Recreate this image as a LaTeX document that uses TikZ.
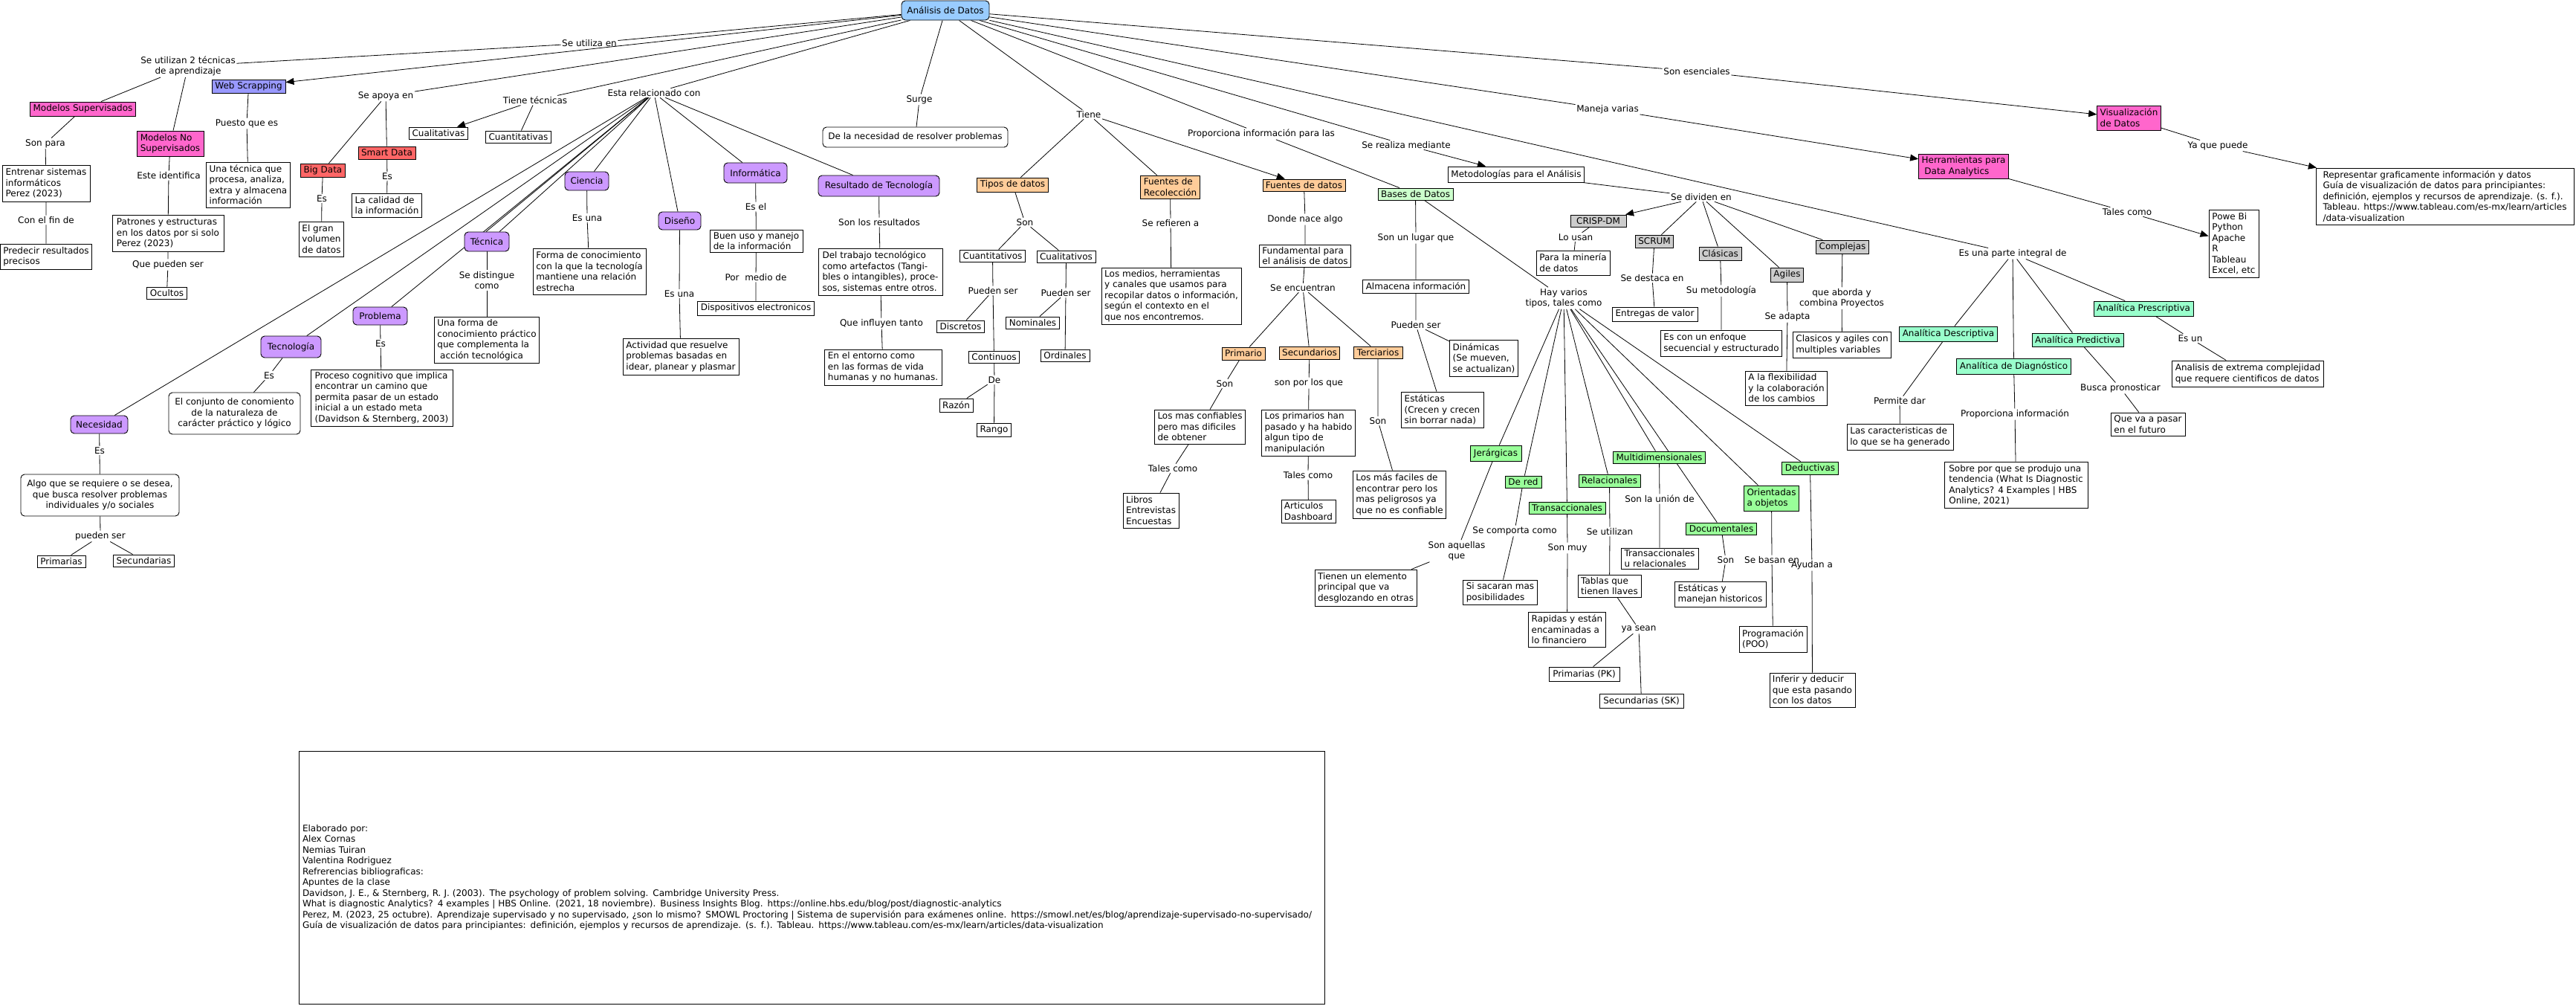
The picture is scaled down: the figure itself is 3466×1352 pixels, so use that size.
\documentclass[tikz,border=0pt]{standalone}
\usepackage{fontspec}
\setmainfont{DejaVu Sans}
\usetikzlibrary{arrows.meta,backgrounds}
\definecolor{cblue}{HTML}{99CCFF}
\definecolor{cpurp}{HTML}{CC99FF}
\definecolor{cpink}{HTML}{FF66CC}
\definecolor{cws}{HTML}{9999FF}
\definecolor{cred}{HTML}{FF6666}
\definecolor{corange}{HTML}{FFCC99}
\definecolor{cgreenl}{HTML}{CCFFCC}
\definecolor{cgreen}{HTML}{99FF99}
\definecolor{caqua}{HTML}{99FFCC}
\definecolor{cgray}{HTML}{CCCCCC}
\newcommand{\cpt}[7]{%
  \pgfmathsetmacro{\mycx}{(#3+#4)/2}%
  \pgfmathsetmacro{\mycy}{(#5+#6)/2}%
  \pgfmathsetmacro{\myw}{#4-#3}%
  \pgfmathsetmacro{\myh}{#6-#5}%
  \node[#2, minimum width=\myw pt, minimum height=\myh pt] (#1) at (\mycx,\mycy) {#7};}
\newcommand{\lnk}[4]{\node[lk] (#1) at (#2,#3) {#4};}
\begin{document}
\begin{tikzpicture}[x=1pt,y=-1pt,
  font=\fontsize{12}{14.5}\selectfont,
  box/.style={draw, line width=0.9pt, rectangle, align=left, inner xsep=4pt, inner ysep=2pt},
  refbox/.style={box, text width=1370pt},
  rbox/.style={box, rounded corners=5pt, align=center},
  anab/.style={rbox, fill=cblue},
  purb/.style={rbox, fill=cpurp},
  pinkb/.style={box, fill=cpink},
  wsb/.style={box, fill=cws},
  redb/.style={box, fill=cred},
  orb/.style={box, fill=corange},
  grlb/.style={box, fill=cgreenl},
  grb/.style={box, fill=cgreen},
  aqb/.style={box, fill=caqua},
  gyb/.style={box, fill=cgray},
  lk/.style={inner sep=1.5pt, align=center},
  ln/.style={line width=0.8pt},
  arr/.style={ln, -{Triangle[length=11pt,width=9pt]}}]
\useasboundingbox (0,0) rectangle (3466,1352);

% ---------- concepts ----------
\cpt{ana}{anab}{1213}{1331}{1}{27}{Análisis de Datos}
\cpt{wscr}{wsb}{285}{384}{107}{125}{Web Scrapping}
\cpt{msup}{pinkb}{41}{182}{137}{156}{Modelos Supervisados}
\cpt{mnsup}{pinkb}{184}{274}{176}{210}{Modelos No\\Supervisados}
\cpt{unatec}{box}{278}{390}{218}{279}{Una técnica que\\procesa, analiza,\\extra y almacena\\información}
\cpt{bigd}{redb}{405}{464}{220}{238}{Big Data}
\cpt{smartd}{redb}{482}{559}{197}{214}{Smart Data}
\cpt{elgran}{box}{403}{462}{298}{345}{El gran\\volumen\\de datos}
\cpt{lacal}{box}{474}{567}{260}{292}{La calidad de\\la información}
\cpt{entrenar}{box}{3}{121}{222}{271}{Entrenar sistemas\\informáticos\\Perez (2023)}
\cpt{predecir}{box}{1}{123}{328}{362}{Predecir resultados\\precisos}
\cpt{patrones}{box}{151}{301}{289}{338}{Patrones y estructuras\\en los datos por si solo\\Perez (2023)}
\cpt{ocultos}{box}{198}{251}{386}{402}{Ocultos}
\cpt{cualit}{box}{551}{629}{171}{187}{Cualitativas}
\cpt{cuantit}{box}{654}{741}{176}{192}{Cuantitativas}
\cpt{problema}{purb}{475}{548}{413}{437}{Problema}
\cpt{tecnologia}{purb}{351}{432}{452}{481}{Tecnología}
\cpt{proceso}{box}{418}{609}{497}{573}{Proceso cognitivo que implica\\encontrar un camino que\\permita pasar de un estado\\inicial a un estado meta\\(Davidson \& Sternberg, 2003)}
\cpt{necesidad}{purb}{95}{172}{559}{583}{Necesidad}
\cpt{conjunto}{rbox}{227}{404}{528}{584}{El conjunto de conomiento\\de la naturaleza de\\carácter práctico y lógico}
\cpt{algo}{rbox}{28}{241}{638}{694}{Algo que se requiere o se desea,\\que busca resolver problemas\\individuales y/o sociales}
\cpt{primarias}{box}{50}{115}{747}{763}{Primarias}
\cpt{secundarias}{box}{153}{234}{746}{762}{Secundarias}
\cpt{ciencia}{purb}{760}{819}{231}{256}{Ciencia}
\cpt{formac}{box}{717}{869}{334}{396}{Forma de conocimiento\\con la que la tecnología\\mantiene una relación\\estrecha}
\cpt{tecnica}{purb}{625}{685}{312}{338}{Técnica}
\cpt{unaforma}{box}{586}{724}{426}{488}{Una forma de\\conocimiento práctico\\que complementa la\\\hspace{3.8pt}acción tecnológica}
\cpt{diseno}{purb}{886}{943}{285}{309}{Diseño}
\cpt{actividad}{box}{838}{994}{455}{504}{Actividad que resuelve\\problemas basadas en\\idear, planear y plasmar}
\cpt{informatica}{purb}{974}{1059}{219}{246}{Informática}
\cpt{buenuso}{box}{955}{1080}{309}{339}{Buen uso y manejo\\de la información}
\cpt{dispositivos}{box}{940}{1094}{405}{424}{Dispositivos electronicos}
\cpt{necres}{rbox}{1107}{1356}{171}{198}{De la necesidad de resolver problemas}
\cpt{resultado}{purb}{1101}{1264}{236}{264}{Resultado de Tecnología}
\cpt{deltrab}{box}{1101}{1268}{334}{397}{Del trabajo tecnológico\\como artefactos (Tangi-\\bles o intangibles), proce-\\sos, sistemas entre otros.}
\cpt{entorno}{box}{1109}{1267}{470}{518}{En el entorno como\\en las formas de vida\\humanas y no humanas.}
\cpt{tipos}{orb}{1315}{1410}{239}{258}{Tipos de datos}
\cpt{fuentesrec}{orb}{1535}{1614}{236}{267}{Fuentes de\\Recolección}
\cpt{fuentesdat}{orb}{1699}{1810}{241}{257}{Fuentes de datos}
\cpt{cuantos}{box}{1292}{1379}{336}{352}{Cuantitativos}
\cpt{cualos}{box}{1395}{1474}{337}{353}{Cualitativos}
\cpt{discretos}{box}{1261}{1324}{431}{447}{Discretos}
\cpt{nominales}{box}{1354}{1425}{426}{442}{Nominales}
\cpt{continuos}{box}{1304}{1371}{472}{488}{Continuos}
\cpt{ordinales}{box}{1400}{1466}{470}{486}{Ordinales}
\cpt{razon}{box}{1264}{1309}{536}{554}{Razón}
\cpt{rango}{box}{1315}{1360}{569}{587}{Rango}
\cpt{medios}{box}{1482}{1670}{360}{436}{Los medios, herramientas\\y canales que usamos para\\recopilar datos o información,\\según el contexto en el\\que nos encontremos.}
\cpt{fundamental}{box}{1695}{1817}{329}{359}{Fundamental para\\el análisis de datos}
\cpt{primario}{orb}{1644}{1702}{467}{484}{Primario}
\cpt{secundarios}{orb}{1722}{1802}{466}{483}{Secundarios}
\cpt{terciarios}{orb}{1821}{1887}{466}{482}{Terciarios}
\cpt{confiables}{box}{1554}{1675}{551}{597}{Los mas confiables\\pero mas dificiles\\de obtener}
\cpt{libros}{box}{1511}{1586}{663}{710}{Libros\\Entrevistas\\Encuestas}
\cpt{primhan}{box}{1698}{1823}{551}{613}{Los primarios han\\pasado y ha habido\\algun tipo de\\manipulación}
\cpt{articulos}{box}{1724}{1797}{672}{703}{Articulos\\Dashboard}
\cpt{faciles}{box}{1821}{1945}{633}{697}{Los más faciles de\\encontrar pero los\\mas peligrosos ya\\que no es confiable}
\cpt{bases}{grlb}{1854}{1955}{253}{269}{Bases de Datos}
\cpt{almacena}{box}{1835}{1975}{376}{394}{Almacena información}
\cpt{dinamicas}{box}{1951}{2042}{457}{506}{Dinámicas\\(Se mueven,\\se actualizan)}
\cpt{estaticas}{box}{1885}{1996}{527}{575}{Estáticas\\(Crecen y crecen\\sin borrar nada)}
\cpt{metod}{box}{1949}{2131}{224}{245}{Metodologías para el Análisis}
\cpt{crisp}{gyb}{2113}{2188}{289}{305}{CRISP-DM}
\cpt{mineria}{box}{2067}{2166}{337}{370}{Para la minería\\de datos}
\cpt{scrum}{gyb}{2201}{2251}{316}{333}{SCRUM}
\cpt{entregas}{box}{2169}{2284}{413}{432}{Entregas de valor}
\cpt{clasicas}{gyb}{2286}{2343}{332}{350}{Clásicas}
\cpt{enfoque}{box}{2235}{2397}{444}{479}{Es con un enfoque\\secuencial y estructurado}
\cpt{agiles}{gyb}{2383}{2426}{360}{379}{Agiles}
\cpt{flexib}{box}{2349}{2458}{499}{545}{A la flexibilidad\\y la colaboración\\de los cambios}
\cpt{complejas}{gyb}{2444}{2514}{323}{341}{Complejas}
\cpt{clasagil}{box}{2413}{2544}{446}{481}{Clasicos y agiles con\\multiples variables}
\cpt{jerar}{grb}{1978}{2047}{599}{620}{Jerárgicas}
\cpt{dered}{grb}{2025}{2074}{640}{656}{De red}
\cpt{transac}{grb}{2057}{2160}{675}{691}{Transaccionales}
\cpt{relac}{grb}{2124}{2207}{638}{655}{Relacionales}
\cpt{multid}{grb}{2171}{2294}{607}{623}{Multidimensionales}
\cpt{docum}{grb}{2269}{2363}{703}{719}{Documentales}
\cpt{orient}{grb}{2347}{2420}{653}{687}{Orientadas\\a objetos}
\cpt{deduct}{grb}{2398}{2473}{621}{638}{Deductivas}
\cpt{tienen}{box}{1769}{1906}{766}{815}{Tienen un elemento\\principal que va\\desglozando en otras}
\cpt{sisacaran}{box}{1969}{2068}{780}{813}{Si sacaran mas\\posibilidades}
\cpt{rapidas}{box}{2057}{2160}{823}{870}{Rapidas y están\\encaminadas a\\lo financiero}
\cpt{tablas}{box}{2123}{2208}{773}{803}{Tablas que\\tienen llaves}
\cpt{pk}{box}{2084}{2179}{897}{916}{Primarias (PK)}
\cpt{sk}{box}{2152}{2265}{933}{952}{Secundarias (SK)}
\cpt{tyr}{box}{2181}{2285}{737}{765}{Transaccionales\\u relacionales}
\cpt{estyman}{box}{2253}{2376}{782}{816}{Estáticas y\\manejan historicos}
\cpt{program}{box}{2340}{2431}{842}{877}{Programación\\(POO)}
\cpt{inferir}{box}{2381}{2496}{905}{951}{Inferir y deducir\\que esta pasando\\con los datos}
\cpt{visual}{pinkb}{2822}{2907}{142}{175}{Visualización\\de Datos}
\cpt{herram}{pinkb}{2582}{2702}{207}{240}{Herramientas para\\\hspace{3.8pt}Data Analytics}
\cpt{powebi}{box}{2972}{3039}{282}{373}{Powe Bi\\Python\\Apache\\R\\Tableau\\Excel, etc}
\cpt{represent}{box}{3116}{3463}{226}{302}{Representar graficamente información y datos\\Guía de visualización de datos para principiantes:\\definición, ejemplos y recursos de aprendizaje. (s. f.).\\Tableau. https://www.tableau.com/es-mx/learn/articles\\/data-visualization}
\cpt{adesc}{aqb}{2556}{2687}{439}{459}{Analítica Descriptiva}
\cpt{adiag}{aqb}{2633}{2786}{482}{503}{Analítica de Diagnóstico}
\cpt{apred}{aqb}{2734}{2857}{448}{466}{Analítica Predictiva}
\cpt{apresc}{aqb}{2818}{2950}{405}{425}{Analítica Prescriptiva}
\cpt{caract}{box}{2485}{2628}{570}{605}{Las caracteristicas de\\lo que se ha generado}
\cpt{sobre}{box}{2616}{2809}{621}{683}{Sobre por que se produjo una\\tendencia (What Is Diagnostic\\Analytics? 4 Examples | HBS\\Online, 2021)}
\cpt{quevaa}{box}{2840}{2940}{555}{586}{Que va a pasar\\en el futuro}
\cpt{extrema}{box}{2923}{3126}{485}{520}{Analisis de extrema complejidad\\que requere cientificos de datos}
\cpt{refs}{refbox}{402}{1782}{1010}{1350}{Elaborado por:\\Alex Cornas\\Nemias Tuiran\\Valentina Rodriguez\\Refrerencias bibliograficas:\\Apuntes de la clase\\Davidson, J. E., \& Sternberg, R. J. (2003). The psychology of problem solving. Cambridge University Press.\\What is diagnostic Analytics? 4 examples | HBS Online. (2021, 18 noviembre). Business Insights Blog. https://online.hbs.edu/blog/post/diagnostic-analytics\\Perez, M. (2023, 25 octubre). Aprendizaje supervisado y no supervisado, ¿son lo mismo? SMOWL Proctoring | Sistema de supervisión para exámenes online. https://smowl.net/es/blog/aprendizaje-supervisado-no-supervisado/\\Guía de visualización de datos para principiantes: definición, ejemplos y recursos de aprendizaje. (s. f.). Tableau. https://www.tableau.com/es-mx/learn/articles/data-visualization}

% ---------- linking phrases ----------
\lnk{l_seutilizan}{253}{89}{Se utilizan 2 técnicas\\de aprendizaje}
\lnk{l_seutiliza}{793}{58}{Se utiliza en}
\lnk{l_sonpara}{61}{193}{Son para}
\lnk{l_confin}{62}{296}{Con el fin de}
\lnk{l_esteid}{227}{236}{Este identifica}
\lnk{l_quepueden}{226}{356}{Que pueden ser}
\lnk{l_puesto}{332}{166}{Puesto que es}
\lnk{l_apoya}{519}{129}{Se apoya en}
\lnk{l_esbd}{433}{267}{Es}
\lnk{l_essd}{521}{237}{Es}
\lnk{l_tienetec}{720}{135}{Tiene técnicas}
\lnk{l_esta}{880}{125}{Esta relacionado con}
\lnk{l_esprob}{512}{462}{Es}
\lnk{l_estec}{362}{505}{Es}
\lnk{l_esnec}{134}{606}{Es}
\lnk{l_pueden}{135}{721}{pueden ser}
\lnk{l_esuna1}{790}{293}{Es una}
\lnk{l_distingue}{655}{377}{Se distingue\\como}
\lnk{l_esuna2}{914}{395}{Es una}
\lnk{l_esel}{1017}{278}{Es el}
\lnk{l_pormedio}{1017}{373}{Por\ \ medio de}
\lnk{l_sonlos}{1183}{299}{Son los resultados}
\lnk{l_queinf}{1186}{435}{Que influyen tanto}
\lnk{l_surge}{1237}{134}{Surge}
\lnk{l_tiene}{1465}{154}{Tiene}
\lnk{l_son1}{1379}{299}{Son}
\lnk{l_pueden1}{1336}{391}{Pueden ser}
\lnk{l_pueden2}{1434}{394}{Pueden ser}
\lnk{l_de}{1338}{511}{De}
\lnk{l_refieren}{1575}{300}{Se refieren a}
\lnk{l_proporciona}{1697}{180}{Proporciona información para las}
\lnk{l_donde}{1756}{295}{Donde nace algo}
\lnk{l_encuentran}{1753}{387}{Se encuentran}
\lnk{l_son2}{1648}{516}{Son}
\lnk{l_tales1}{1578}{630}{Tales como}
\lnk{l_sonpor}{1761}{515}{son por los que}
\lnk{l_tales2}{1760}{639}{Tales como}
\lnk{l_son3}{1854}{566}{Son}
\lnk{l_lugar}{1905}{320}{Son un lugar que}
\lnk{l_pueden3}{1905}{437}{Pueden ser}
\lnk{l_hay}{2104}{401}{Hay varios\\tipos, tales como}
\lnk{l_aquellas}{1960}{741}{Son aquellas\\que}
\lnk{l_comporta}{2038}{714}{Se comporta como}
\lnk{l_muy}{2109}{737}{Son muy}
\lnk{l_seutilizan2}{2166}{715}{Se utilizan}
\lnk{l_yasean}{2205}{846}{ya sean}
\lnk{l_union}{2233}{671}{Son la unión de}
\lnk{l_son4}{2322}{753}{Son}
\lnk{l_basan}{2384}{753}{Se basan en}
\lnk{l_ayudan}{2438}{760}{Ayudan a}
\lnk{l_realiza}{1892}{195}{Se realiza mediante}
\lnk{l_dividen}{2289}{265}{Se dividen en}
\lnk{l_lousan}{2120}{319}{Lo usan}
\lnk{l_destaca}{2223}{374}{Se destaca en}
\lnk{l_sumet}{2316}{391}{Su metodología}
\lnk{l_adapta}{2405}{426}{Se adapta}
\lnk{l_aborda}{2478}{401}{que aborda y\\combina Proyectos}
\lnk{l_maneja}{2163}{147}{Maneja varias}
\lnk{l_esenciales}{2283}{96}{Son esenciales}
\lnk{l_integral}{2708}{341}{Es una parte integral de}
\lnk{l_permite}{2556}{539}{Permite dar}
\lnk{l_propinf}{2711}{557}{Proporciona información}
\lnk{l_busca}{2853}{522}{Busca pronosticar}
\lnk{l_esun}{2947}{455}{Es un}
\lnk{l_tales3}{2862}{285}{Tales como}
\lnk{l_yaque}{2984}{196}{Ya que puede}

% ---------- connectors ----------
\begin{pgfonlayer}{background}
\draw[ln] (ana) -- (l_seutiliza) -- (l_seutilizan);
\draw[ln] (l_seutilizan) -- (msup);
\draw[ln] (l_seutilizan) -- (mnsup);
\draw[arr] (ana) -- (wscr);
\draw[ln] (ana) -- (l_apoya);
\draw[ln] (l_apoya) -- (bigd);
\draw[ln] (l_apoya) -- (smartd);
\draw[ln] (ana) -- (l_tienetec);
\draw[arr] (l_tienetec) -- (cualit);
\draw[ln] (l_tienetec) -- (cuantit);
\draw[ln] (ana) -- (l_esta);
\draw[ln] (l_esta) -- (necesidad);
\draw[ln] (l_esta) -- (tecnologia);
\draw[ln] (l_esta) -- (problema);
\draw[ln] (l_esta) -- ([xshift=-1pt]tecnica.north);
\draw[ln] (l_esta) -- ([xshift=17pt]tecnica.north);
\draw[ln] (l_esta) -- (ciencia);
\draw[ln] (l_esta) -- (diseno);
\draw[ln] (l_esta) -- (informatica);
\draw[ln] (l_esta) -- (resultado);
\draw[ln] (ana) -- (l_surge) -- (necres);
\draw[ln] (ana) -- (l_tiene);
\draw[ln] (l_tiene) -- (tipos);
\draw[ln] (l_tiene) -- (fuentesrec);
\draw[arr] (l_tiene) -- (fuentesdat);
\draw[ln] (ana) -- (l_proporciona) -- (bases);
\draw[ln] (ana) -- (l_realiza);
\draw[arr] (l_realiza) -- (metod);
\draw[ln] (ana) -- (l_integral);
\draw[ln] (l_integral) -- (adesc);
\draw[ln] (l_integral) -- (adiag);
\draw[ln] (l_integral) -- (apred);
\draw[ln] (l_integral) -- (apresc);
\draw[ln] (ana) -- (l_maneja);
\draw[arr] (l_maneja) -- (herram);
\draw[ln] (ana) -- (l_esenciales);
\draw[arr] (l_esenciales) -- (visual);

\draw[ln] (msup) -- (l_sonpara) -- (entrenar) -- (l_confin) -- (predecir);
\draw[ln] (mnsup) -- (l_esteid) -- (patrones) -- (l_quepueden) -- (ocultos);
\draw[ln] (wscr) -- (l_puesto) -- (unatec);
\draw[ln] (bigd) -- (l_esbd) -- (elgran);
\draw[ln] (smartd) -- (l_essd) -- (lacal);
\draw[ln] (ciencia) -- (l_esuna1) -- (formac);
\draw[ln] (tecnica) -- (l_distingue) -- (unaforma);
\draw[ln] (diseno) -- (l_esuna2) -- (actividad);
\draw[ln] (informatica) -- (l_esel) -- (buenuso) -- (l_pormedio) -- (dispositivos);
\draw[ln] (resultado) -- (l_sonlos) -- (deltrab) -- (l_queinf) -- (entorno);
\draw[ln] (problema) -- (l_esprob) -- (proceso);
\draw[ln] (tecnologia) -- (l_estec) -- (conjunto);
\draw[ln] (necesidad) -- (l_esnec) -- (algo) -- (l_pueden);
\draw[ln] (l_pueden) -- (primarias);
\draw[ln] (l_pueden) -- (secundarias);

\draw[ln] (tipos) -- (l_son1);
\draw[ln] (l_son1) -- (cuantos);
\draw[ln] (l_son1) -- (cualos);
\draw[ln] (cuantos) -- (l_pueden1);
\draw[ln] (l_pueden1) -- (discretos);
\draw[ln] (l_pueden1) -- (continuos);
\draw[ln] (continuos) -- (l_de);
\draw[ln] (l_de) -- (razon);
\draw[ln] (l_de) -- (rango);
\draw[ln] (cualos) -- (l_pueden2);
\draw[ln] (l_pueden2) -- (nominales);
\draw[ln] (l_pueden2) -- (ordinales);
\draw[ln] (fuentesrec) -- (l_refieren) -- (medios);
\draw[ln] (fuentesdat) -- (l_donde) -- (fundamental) -- (l_encuentran);
\draw[ln] (l_encuentran) -- (primario);
\draw[ln] (l_encuentran) -- (secundarios);
\draw[ln] (l_encuentran) -- (terciarios);
\draw[ln] (primario) -- (l_son2) -- (confiables) -- (l_tales1) -- (libros);
\draw[ln] (secundarios) -- (l_sonpor) -- (primhan) -- (l_tales2) -- (articulos);
\draw[ln] (terciarios) -- (l_son3) -- (faciles);

\draw[ln] (bases) -- (l_lugar) -- (almacena) -- (l_pueden3);
\draw[ln] (l_pueden3) -- (dinamicas);
\draw[ln] (l_pueden3) -- (estaticas);
\draw[ln] (bases) -- (l_hay);
\draw[ln] (l_hay) -- (jerar);
\draw[ln] (l_hay) -- (dered);
\draw[ln] (l_hay) -- (transac);
\draw[ln] (l_hay) -- (relac);
\draw[ln] (l_hay) -- (multid);
\draw[ln] (l_hay) -- (docum);
\draw[ln] (l_hay) -- (orient);
\draw[ln] (l_hay) -- (deduct);
\draw[ln] (jerar) -- (l_aquellas) -- (tienen);
\draw[ln] (dered) -- (l_comporta) -- (sisacaran);
\draw[ln] (transac) -- (l_muy) -- (rapidas);
\draw[ln] (relac) -- (l_seutilizan2) -- (tablas) -- (l_yasean);
\draw[ln] (l_yasean) -- (pk);
\draw[ln] (l_yasean) -- (sk);
\draw[ln] (multid) -- (l_union) -- (tyr);
\draw[ln] (docum) -- (l_son4) -- (estyman);
\draw[ln] (orient) -- (l_basan) -- (program);
\draw[ln] (deduct) -- (l_ayudan) -- (inferir);

\draw[ln] (metod) -- (l_dividen);
\draw[arr] (l_dividen) -- (crisp);
\draw[ln] (l_dividen) -- (scrum);
\draw[ln] (l_dividen) -- (clasicas);
\draw[ln] (l_dividen) -- (agiles);
\draw[ln] (l_dividen) -- (complejas);
\draw[ln] (crisp) -- (l_lousan) -- (mineria);
\draw[ln] (scrum) -- (l_destaca) -- (entregas);
\draw[ln] (clasicas) -- (l_sumet) -- (enfoque);
\draw[ln] (agiles) -- (l_adapta) -- (flexib);
\draw[ln] (complejas) -- (l_aborda) -- (clasagil);

\draw[ln] (adesc) -- (l_permite) -- (caract);
\draw[ln] (adiag) -- (l_propinf) -- (sobre);
\draw[ln] (apred) -- (l_busca) -- (quevaa);
\draw[ln] (apresc) -- (l_esun) -- (extrema);
\draw[ln] (herram) -- (l_tales3);
\draw[arr] (l_tales3) -- (powebi);
\draw[ln] (visual) -- (l_yaque);
\draw[arr] (l_yaque) -- (represent);
\end{pgfonlayer}
\end{tikzpicture}
\end{document}
